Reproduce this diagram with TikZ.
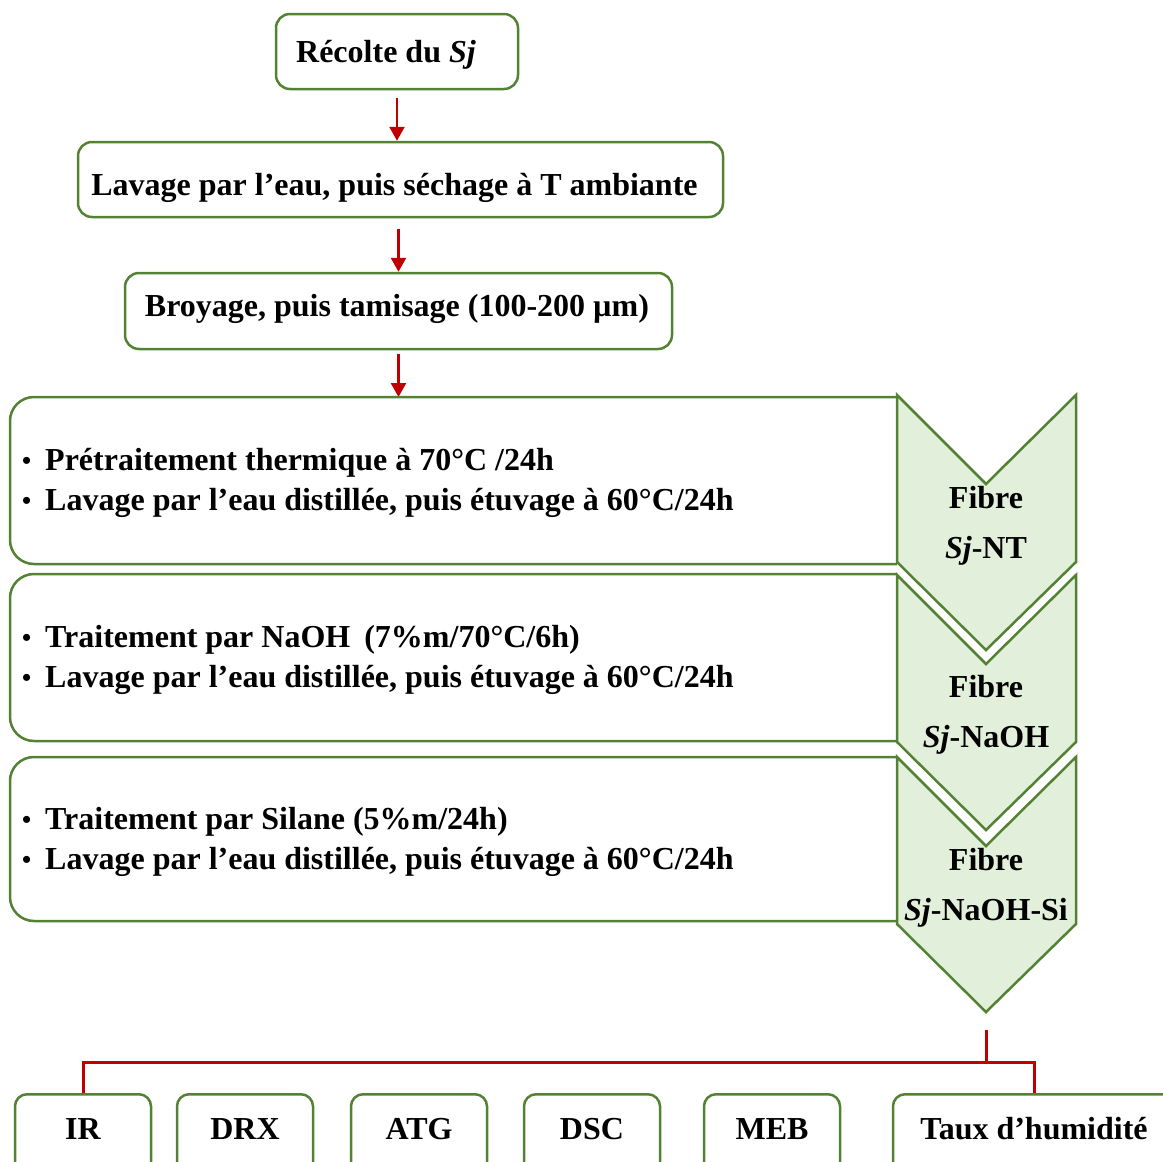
\documentclass[tikz,border=0pt]{standalone}
\usepackage{fontspec}
\setmainfont{Liberation Serif}
\usepackage{tikz}
\usetikzlibrary{arrows.meta}

\definecolor{leaf}{HTML}{548235}
\definecolor{leaflight}{HTML}{E2EFDA}
\definecolor{flowred}{HTML}{C00000}

\newcommand{\bigfont}{\fontsize{32}{40}\selectfont\bfseries}
\newcommand{\dotitem}{\makebox[23pt][l]{\raisebox{1pt}{\fontsize{26}{26}\selectfont\textbullet}}}
\newcommand{\shiftdown}[2]{\raisebox{-#1}[\height][\depth]{#2}}

\tikzset{
  stepbox/.style={draw=leaf, line width=2.5pt, rounded corners=14pt, minimum height=75pt, inner sep=0pt, font=\bigfont},
  panel/.style={draw=leaf, line width=2.5pt, rounded corners=24pt},
  bullets/.style={anchor=west, align=left, inner sep=0pt, font=\bigfont},
  chevron/.style={draw=leaf, fill=leaflight, line width=2.5pt},
  fibre/.style={align=center, inner sep=0pt, font=\fontsize{32}{50}\selectfont\bfseries},
  testbox/.style={draw=leaf, line width=2.5pt, rounded corners=12pt, anchor=north, minimum width=136pt, minimum height=90pt, inner sep=0pt, text height=22pt, text depth=22pt, font=\bigfont},
  flowarrow/.style={draw=flowred, line width=2.5pt, ->},
  flowline/.style={draw=flowred, line width=3pt},
}

\begin{document}
\begin{tikzpicture}[x=1pt, y=-1pt, >={Triangle[length=14pt,width=15pt]}]

    \useasboundingbox (0,0) rectangle (1163,1162);
    \clip (0,0) rectangle (1163,1162);

    \node[stepbox, minimum width=242pt] (recolte) at (397,51.5) {\shiftdown{3pt}{Récolte du \textit{Sj}}\kern22pt};
    \node[stepbox, minimum width=645pt] (lavage) at (400.5,179.5) {\shiftdown{8pt}{Lavage par l’eau, puis séchage à T ambiante}\kern12pt};
    \node[stepbox, minimum width=547pt, minimum height=76pt] (broyage) at (398.5,311) {\shiftdown{-2pt}{Broyage, puis tamisage (100-200 µm)}\kern3pt};

    \coordinate (top1) at (398,397);

    \draw[flowarrow, shorten <=8pt] (recolte.south) -- (recolte.south |- lavage.north);
    \draw[flowarrow, shorten <=11pt] (lavage.south -| broyage.north) -- (broyage.north);
    \draw[flowarrow, shorten <=4pt] (broyage.south) -- (broyage.south |- top1);

    % treatment panels
    \draw[panel] (897,397) -- (10,397) -- (10,564) -- (897,564);
    \draw[panel] (897,574) -- (10,574) -- (10,741) -- (897,741);
    \draw[panel] (897,757) -- (10,757) -- (10,921) -- (897,921);

    \node[bullets] (pretrait) at (22,483) {\dotitem Prétraitement thermique à 70°C /24h\\ \dotitem Lavage par l’eau distillée, puis étuvage à 60°C/24h};
    \node[bullets] (alcali) at (22,660) {\dotitem Traitement par NaOH\hspace{14pt}(7\%m/70°C/6h)\\ \dotitem Lavage par l’eau distillée, puis étuvage à 60°C/24h};
    \node[bullets] (silane) at (22,842) {\dotitem Traitement par Silane (5\%m/24h)\\ \dotitem Lavage par l’eau distillée, puis étuvage à 60°C/24h};

    \foreach \t/\name/\ty/\lab in {395/fibnt/526/{\textit{Sj}-NT}, 575/fibnaoh/715/{\textit{Sj}-NaOH}, 757/fibsi/888/{\textit{Sj}-NaOH-Si}} {
        \filldraw[chevron] (897,\t) -- (986,\t+89) -- (1076,\t) -- (1076,\t+167) -- (986,\t+255) -- (897,\t+167) -- cycle;
        \node[fibre] (\name) at (986,\ty) {Fibre\\ \lab};
    }

    % characterisation
    \node[testbox] (ir) at (83,1093) {IR};
    \node[testbox] (drx) at (245,1093) {DRX};
    \node[testbox] (atg) at (419,1093) {ATG};
    \node[testbox] (dsc) at (592,1093) {DSC};
    \node[testbox] (meb) at (772,1093) {MEB};
    \node[testbox, minimum width=282pt] (taux) at (1034,1093) {Taux d’humidité};

    \coordinate (drop) at (986,1030);
    \coordinate (fork) at (986,1062);

    \draw[flowline] (drop) -- (fork) -| (ir.north);
    \draw[flowline] (fork) -| (taux.north);

\end{tikzpicture}
\end{document}
